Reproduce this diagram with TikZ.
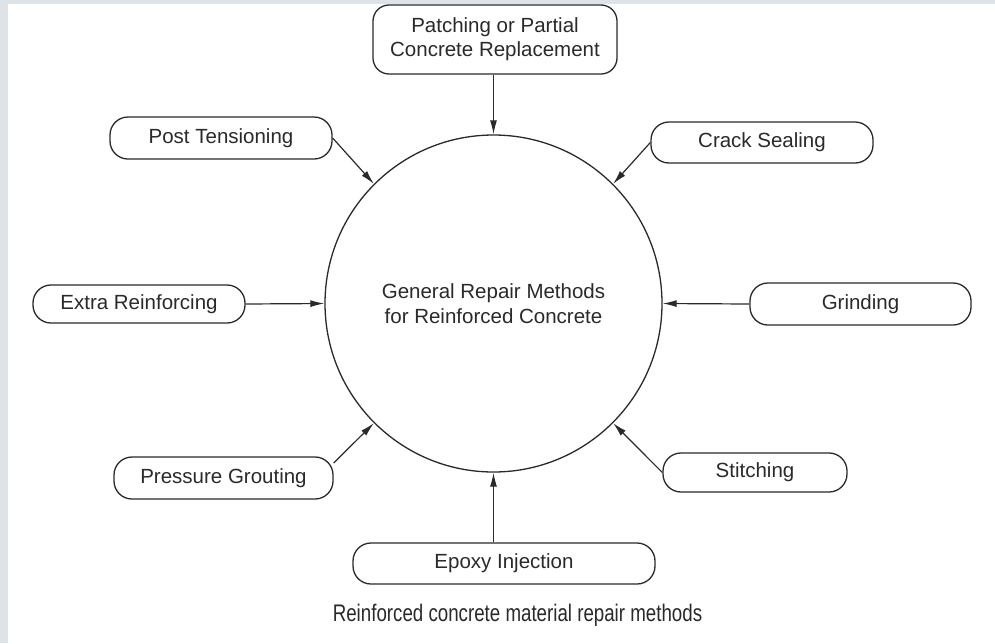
\documentclass[tikz,border=0pt]{standalone}
\usepackage{fontspec}
\setmainfont{Liberation Sans}
\newfontfamily\captionfont[FakeStretch=0.78]{Liberation Sans}
\usetikzlibrary{arrows.meta,calc}

\definecolor{ink}{HTML}{2A2A2A}
\definecolor{frame}{HTML}{DDE3E7}

\tikzset{
  method/.style={draw=ink, line width=1.3pt, rounded corners=18pt,
    text=ink, font=\fontsize{20.5}{24}\selectfont, align=center,
    inner sep=0pt},
  hub/.style={draw=ink, line width=1.3pt, circle, minimum size=337pt,
    inner sep=0pt, text=ink, font=\fontsize{20.5}{24.5}\selectfont, align=center},
  feed/.style={draw=ink, line width=1.2pt, -{Latex[length=14pt,width=7pt]}},
}

\begin{document}
\begin{tikzpicture}[x=1pt, y=-1pt]
  % page and its grey frame strips
  \useasboundingbox (0,0) rectangle (995,643);
  \fill[white] (0,0) rectangle (995,643);
  \fill[frame] (0,0) rectangle (995,4);
  \fill[frame] (0,0) rectangle (8,643);

  % central topic
  \node[hub] (hub) at (493.5,303.5) {General Repair Methods\\for Reinforced Concrete};

  % repair methods around it
  \node[method, minimum width=244pt, minimum height=69pt, rounded corners=16pt] (patch) at (495,39.5)
    {Patching or Partial\\Concrete Replacement};
  \node[method, minimum width=222pt, minimum height=42pt] (post) at (221,138) {Post Tensioning};
  \node[method, minimum width=222pt, minimum height=41pt] (crack) at (762,142.5) {Crack Sealing};
  \node[method, minimum width=212pt, minimum height=38pt] (extra) at (139,304) {Extra Reinforcing};
  \node[method, minimum width=221pt, minimum height=42pt] (grind) at (860.5,304) {Grinding};
  \node[method, minimum width=219pt, minimum height=42pt] (press) at (223.5,478) {Pressure Grouting};
  \node[method, minimum width=184pt, minimum height=39pt] (stitch) at (755,472.5) {Stitching};
  \node[method, minimum width=302pt, minimum height=41pt] (epoxy) at (504,563.5) {Epoxy Injection};

  % connectors into the circle
  \coordinate (pressout) at ($(press.east)+(0,-15)$);
  \draw[feed] (hub.north |- patch.south) -- (hub.north);
  \draw[feed] (post.east) -- (hub.135);
  \draw[feed] (crack.west) -- (hub.45);
  \draw[feed] (extra.east) -- (hub.west);
  \draw[feed] (grind.west) -- (hub.east);
  \draw[feed] (pressout) -- (hub.225);
  \draw[feed] (stitch.west) -- (hub.315);
  \draw[feed] (hub.south |- epoxy.north) -- (hub.south);

  % caption
  \node[text=ink, font=\captionfont\fontsize{24}{28}\selectfont, inner sep=0pt] (caption)
    at (517.5,615) {Reinforced concrete material repair methods};
\end{tikzpicture}
\end{document}
